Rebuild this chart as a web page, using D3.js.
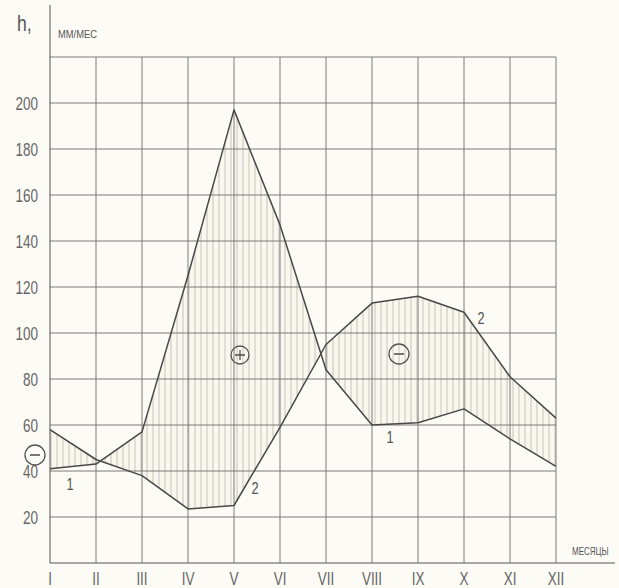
<!DOCTYPE html>
<meta charset="utf-8">
<style>
body { margin: 0; background: #fcfbf5; }
svg { display: block; }
.grid line { stroke: #7a7a7a; stroke-width: 1; }
.tick-lbl { font-family: "Liberation Sans", "DejaVu Sans", sans-serif; font-size: 18px; fill: #666; }
.curve { fill: none; stroke: #484848; stroke-width: 1.5; stroke-linejoin: round; }
.note { font-family: "Liberation Sans", sans-serif; fill: #555; }
</style>
<svg width="619" height="588"></svg>
<script src="https://cdn.jsdelivr.net/npm/d3@7"></script>
<script>

// months, roman numerals
var months = ["I","II","III","IV","V","VI","VII","VIII","IX","X","XI","XII"];
// curve 1 (peak in May) and curve 2, mm/month
var curve1 = [41, 43, 57, 125, 197, 147, 84, 60, 61, 67, 54, 42];
var curve2 = [58, 45, 38, 23.5, 25, 59, 95, 113, 116, 109, 81, 63];
var yTicks = [20, 40, 60, 80, 100, 120, 140, 160, 180, 200];
var yGrid = [0, 20, 40, 60, 80, 100, 120, 140, 160, 180, 200, 220];

var svg = d3.select("svg");

var x = d3.scalePoint().domain(months).range([50, 556]);
var y = d3.scaleLinear().domain([0, 220]).range([563, 57]);

// hatch pattern
svg.append("defs").append("pattern")
    .attr("id", "hatch")
    .attr("patternUnits", "userSpaceOnUse")
    .attr("width", 6).attr("height", 10)
  .append("line")
    .attr("x1", 3).attr("y1", 0).attr("x2", 3).attr("y2", 10)
    .attr("stroke", "#c6c4bc").attr("stroke-width", 1);

var rows = months.map(function(m, i) { return {m: m, a: curve1[i], b: curve2[i]}; });

var area = d3.area()
    .x(function(d) { return x(d.m); })
    .y0(function(d) { return y(d.a); })
    .y1(function(d) { return y(d.b); });

svg.append("path")
    .datum(rows)
    .attr("d", area)
    .attr("fill", "#f9f7ee");
svg.append("path")
    .datum(rows)
    .attr("d", area)
    .attr("fill", "url(#hatch)");

// grid
var grid = svg.append("g").attr("class", "grid");
grid.selectAll(".h").data(yGrid).enter().append("line")
    .attr("x1", 50).attr("x2", function(d) { return d === 0 ? 615 : 556; })
    .attr("y1", function(d) { return y(d); }).attr("y2", function(d) { return y(d); })
    .style("stroke", function(d) { return d === 0 ? "#555" : null; });
grid.selectAll(".v").data(months).enter().append("line")
    .attr("x1", function(d) { return x(d); }).attr("x2", function(d) { return x(d); })
    .attr("y1", function(d, i) { return i === 0 ? 5 : y(220); })
    .attr("y2", y(0))
    .style("stroke", function(d, i) { return i === 0 ? "#555" : null; });

// y labels (narrowed like the drafting lettering)
svg.selectAll(".ylab").data(yTicks).enter().append("text")
    .attr("class", "tick-lbl")
    .attr("transform", function(d) { return "translate(38," + (y(d) + 7) + ") scale(0.75,1)"; })
    .attr("text-anchor", "end")
    .text(function(d) { return d; });

// month labels
svg.selectAll(".xlab").data(months).enter().append("text")
    .attr("class", "tick-lbl")
    .attr("transform", function(d) { return "translate(" + x(d) + ",585) scale(0.75,1)"; })
    .attr("text-anchor", "middle")
    .text(function(d) { return d; });

// curves
var line = d3.line().x(function(d) { return x(d.m); });
svg.append("path").datum(rows).attr("class", "curve")
    .attr("d", line.y(function(d) { return y(d.a); }));
svg.append("path").datum(rows).attr("class", "curve")
    .attr("d", line.y(function(d) { return y(d.b); }));

// curve numbers
var nums = [["1", 70, 490], ["2", 255, 494], ["1", 390, 443], ["2", 481, 324]];
svg.selectAll(".num").data(nums).enter().append("text")
    .attr("class", "note").style("font-size", "17px")
    .attr("transform", function(d) { return "translate(" + d[1] + "," + d[2] + ") scale(0.75,1)"; })
    .attr("text-anchor", "middle")
    .text(function(d) { return d[0]; });

// plus / minus signs
var signs = [["-", 35, 455, 10], ["+", 240, 355, 9], ["-", 399, 354, 10]];
signs.forEach(function(s) {
  var g = svg.append("g").attr("transform", "translate(" + s[1] + "," + s[2] + ")");
  g.append("circle").attr("r", s[3]).attr("fill", "none").attr("stroke", "#555").attr("stroke-width", 1.3);
  g.append("line").attr("x1", -5).attr("x2", 5).attr("stroke", "#555").attr("stroke-width", 1.6);
  if (s[0] === "+") g.append("line").attr("y1", -5).attr("y2", 5).attr("stroke", "#555").attr("stroke-width", 1.3);
});

// axis titles
svg.append("text").attr("class", "note").style("font-size", "22px")
    .attr("transform", "translate(17,31) scale(0.8,1)").text("h,");
svg.append("text").attr("class", "note").style("font-size", "11px")
    .attr("transform", "translate(58,38) scale(0.85,1)").text("ММ/МЕС");
svg.append("text").attr("class", "note").style("font-size", "10px")
    .attr("transform", "translate(572,555) scale(0.8,1)").text("МЕСЯЦЫ");

</script>
